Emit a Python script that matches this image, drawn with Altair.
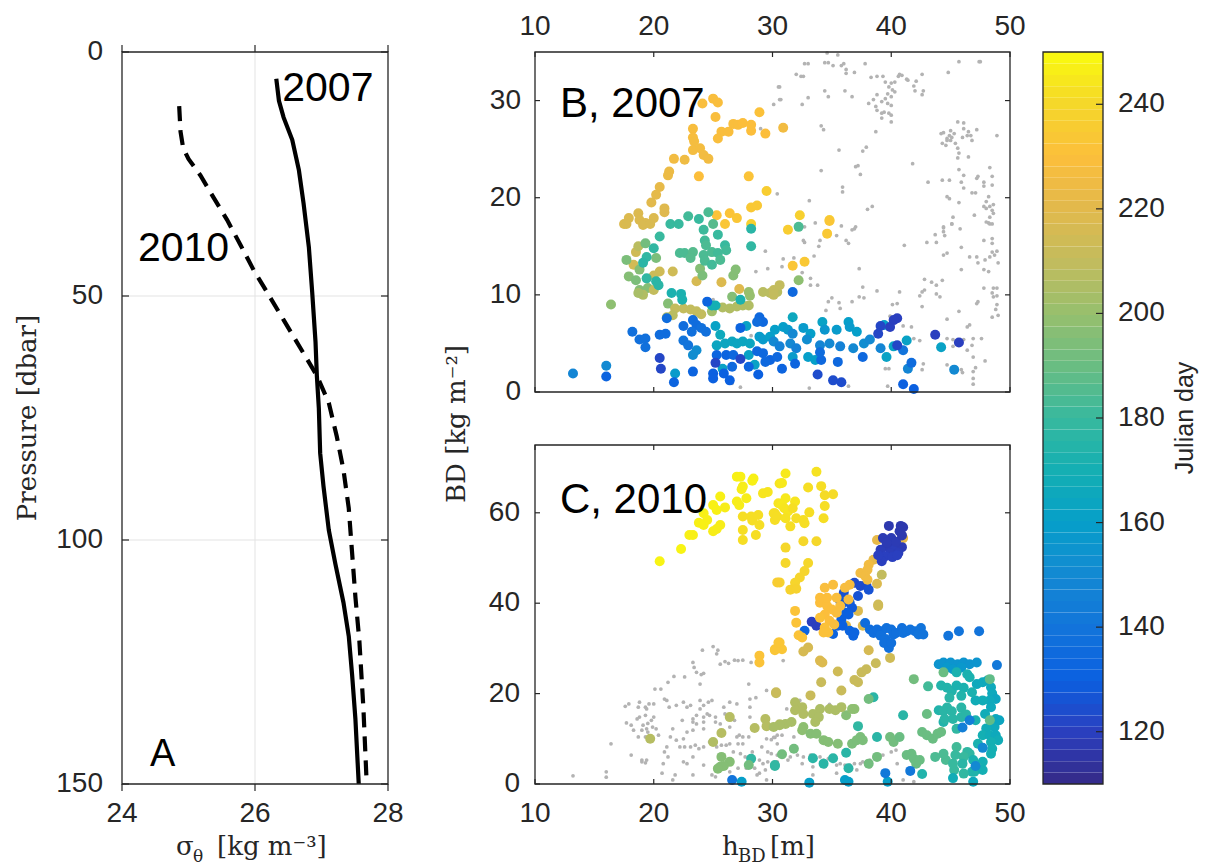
import altair as alt
import pandas as pd

# ---------------- panel A: density profiles ----------------
SIGMA_2007 = [26.32, 26.36, 26.43, 26.56, 26.66, 26.73, 26.81, 26.86, 26.91, 26.93,
              26.96, 26.98, 27.03, 27.11, 27.21, 27.33, 27.41, 27.46, 27.51, 27.56]
P_2007 = [5.5, 10, 13.4, 18, 24.2, 31, 40, 49.2, 59.4, 66.3,
          73, 82.2, 89, 98, 105, 112.8, 119.7, 127.6, 136.7, 150]
SIGMA_2010 = [24.86, 24.88, 24.92, 25.0, 25.18, 25.38, 25.58, 25.78, 25.98, 26.18, 26.43,
              26.68, 26.93, 27.11, 27.23, 27.33, 27.41, 27.46, 27.51, 27.57, 27.63, 27.68]
P_2010 = [11.1, 16.3, 19.7, 21.9, 25.3, 29.9, 34.4, 39.5, 44.7, 49.2, 54.9,
          60.6, 66.3, 71.9, 78.8, 85.6, 93.5, 102.6, 111.7, 120.8, 134.4, 150]

SIGMA_DOMAIN = [24, 28]
P_DOMAIN = [0, 150]
SIGMA_TICKS = [24, 26, 28]
P_TICKS = [0, 50, 100, 150]

# ---------------- panels B and C: bottom density vs depth ----------------
H_DOMAIN = [10, 50]
H_TICKS = [10, 20, 30, 40, 50]
B_DOMAIN = [0, 35]
B_TICKS = [0, 10, 20, 30]
C_DOMAIN = [0, 75]
C_TICKS = [0, 20, 40, 60]

# (h_BD, BD, Julian day) for 2007
B_ORANGE = [(24.1, 29.7, 229), (25.0, 30.2, 229), (25.4, 29.8, 229), (25.2, 28.3, 229), (23.3, 27.1, 228),
            (23.3, 26.2, 228), (23.4, 25.8, 227), (23.3, 24.9, 227), (23.9, 25.1, 227), (24.2, 24.4, 226),
            (24.6, 24.0, 226), (22.6, 23.9, 225), (21.7, 24.0, 226), (21.3, 22.7, 224), (21.2, 22.3, 224),
            (23.8, 22.2, 230), (26.7, 27.6, 229), (27.1, 27.5, 229), (27.5, 27.7, 230), (28.2, 27.5, 230),
            (28.2, 26.9, 230), (29.4, 26.6, 230), (28.9, 28.8, 231), (25.7, 26.8, 229), (26.3, 26.8, 229),
            (25.4, 26.1, 229), (30.9, 27.2, 226), (28.0, 22.2, 232), (29.5, 20.7, 236), (28.2, 19.0, 234),
            (28.7, 19.2, 234), (25.3, 18.2, 232), (26.4, 18.4, 232), (27.0, 17.9, 233), (26.0, 17.3, 233),
            (28.2, 17.3, 237), (32.3, 18.2, 237), (34.8, 17.7, 237), (31.3, 16.7, 236), (34.6, 16.3, 234),
            (34.8, 17.6, 233), (31.7, 13.0, 233), (32.7, 13.4, 234)]
B_GOLD = [(20.5, 21.1, 222), (20.2, 20.3, 221), (19.8, 19.5, 220), (20.9, 18.9, 219), (20.9, 18.5, 219),
          (17.9, 17.9, 218), (17.5, 17.3, 218), (18.7, 18.4, 218), (18.8, 17.7, 218), (19.3, 17.4, 218),
          (20.0, 17.9, 218), (17.7, 17.3, 217), (19.1, 17.2, 217), (19.7, 17.3, 217), (18.5, 14.4, 214),
          (18.3, 13.1, 215), (20.5, 12.4, 214), (20.0, 12.0, 213), (21.6, 12.4, 214), (23.6, 11.4, 216),
          (25.7, 11.3, 218), (27.2, 10.6, 219), (18.7, 15.0, 208)]
B_TEAL = [(22.9, 18.1, 182), (24.6, 18.5, 184), (25.0, 17.3, 186), (23.8, 17.8, 180), (21.4, 17.3, 180),
          (22.1, 17.3, 180), (24.2, 16.7, 181), (20.5, 16.0, 180), (24.3, 15.6, 182), (25.4, 16.2, 180),
          (24.4, 15.1, 184), (28.2, 16.8, 176), (28.2, 15.0, 178), (26.0, 15.1, 180), (26.1, 14.6, 182),
          (20.0, 14.8, 178), (19.4, 13.9, 178), (19.1, 13.3, 176), (22.2, 14.3, 184), (22.6, 14.3, 184),
          (23.3, 14.4, 186), (23.1, 13.8, 186), (24.2, 14.1, 184), (24.3, 13.5, 184), (24.9, 14.4, 184),
          (25.4, 14.3, 182), (25.6, 13.6, 184), (24.9, 13.1, 182), (20.2, 11.4, 176), (20.4, 11.0, 176),
          (19.4, 11.7, 178), (32.2, 17.0, 184), (21.5, 10.2, 172), (22.3, 10.1, 172), (22.4, 9.5, 172),
          (24.9, 8.9, 170), (25.2, 8.9, 170), (27.3, 9.5, 172), (31.7, 7.7, 165)]
B_GREEN = [(19.3, 15.3, 192), (20.2, 13.8, 194), (17.7, 13.6, 194), (23.9, 12.7, 196), (18.8, 12.6, 196),
           (17.9, 11.9, 196), (18.5, 11.5, 194), (18.8, 10.5, 196), (19.5, 10.7, 196), (24.1, 12.0, 194),
           (26.7, 12.0, 196), (26.9, 12.6, 196), (16.4, 9.0, 198), (21.2, 9.1, 196), (32.2, 11.5, 198),
           (28.0, 10.3, 200), (28.1, 9.9, 200), (26.6, 9.8, 196)]
B_OLIVE = [(19.1, 10.0, 206), (20.0, 10.5, 210), (18.7, 10.2, 204), (29.2, 10.3, 208), (29.8, 10.2, 208),
           (30.4, 10.3, 208), (21.8, 8.6, 210), (22.5, 8.6, 210), (23.1, 8.5, 210), (23.6, 8.3, 210),
           (24.0, 8.0, 210), (21.6, 7.9, 208), (21.1, 7.7, 208), (25.8, 8.7, 206), (26.4, 8.6, 206),
           (27.0, 8.8, 206), (27.5, 8.9, 206), (28.0, 8.9, 206), (24.9, 8.3, 202), (30.1, 10.5, 210),
           (30.6, 11.0, 210), (30.1, 10.0, 210)]
B_BLUE = [(21.1, 7.6, 136), (18.2, 6.2, 138), (18.8, 5.4, 138), (19.3, 5.5, 138), (19.3, 4.6, 138),
          (20.5, 5.9, 136), (21.0, 6.0, 136), (22.5, 6.8, 136), (23.3, 7.4, 136), (23.6, 6.9, 136),
          (23.2, 6.2, 138), (24.4, 6.2, 138), (24.0, 6.6, 138), (22.5, 5.3, 140), (22.9, 4.8, 140),
          (24.5, 9.3, 132), (27.3, 6.6, 132), (28.9, 7.7, 134), (29.2, 7.2, 134), (28.7, 7.2, 136),
          (31.7, 10.3, 134), (21.7, 1.0, 132), (23.3, 2.1, 132), (16.0, 1.6, 132), (25.3, 3.8, 132),
          (26.1, 3.8, 132), (26.7, 3.8, 134), (26.6, 2.6, 134), (25.9, 1.9, 130), (25.0, 1.9, 130),
          (25.0, 1.4, 130), (26.4, 1.2, 130), (28.0, 2.6, 132), (28.8, 1.8, 130), (28.7, 4.2, 134),
          (29.2, 4.0, 134), (29.8, 3.3, 132), (30.4, 3.6, 134), (29.4, 3.1, 134), (30.8, 2.4, 132),
          (31.9, 2.9, 132), (34.1, 3.3, 134), (34.0, 4.1, 136), (35.5, 3.1, 134), (37.6, 3.6, 134),
          (41.7, 3.0, 136), (41.0, 0.8, 130), (41.9, 0.3, 130), (41.0, 4.3, 140)]
B_DARK = [(20.5, 3.5, 122), (20.6, 2.4, 122), (27.3, 3.4, 122), (25.2, 3.0, 122), (33.8, 1.8, 124),
          (35.1, 1.2, 124), (35.8, 1.0, 124), (40.5, 7.6, 120), (40.2, 7.4, 120), (39.9, 6.7, 120),
          (39.1, 6.8, 122), (38.9, 6.0, 122), (40.5, 4.8, 122), (43.7, 5.9, 120), (45.7, 5.1, 120)]
B_CYAN = [(23.6, 4.3, 152), (23.3, 3.8, 152), (21.8, 1.9, 158), (16.0, 2.7, 150), (13.2, 1.9, 148),
          (25.2, 6.8, 162), (27.8, 6.8, 162), (28.9, 5.7, 158), (29.2, 5.4, 158), (29.8, 5.7, 160),
          (30.2, 6.4, 160), (28.0, 3.8, 162), (28.5, 2.8, 162), (25.8, 2.4, 162), (25.6, 5.9, 166),
          (25.3, 4.8, 164), (26.0, 5.0, 164), (26.6, 5.2, 164), (27.0, 5.0, 164), (27.5, 5.2, 164),
          (28.1, 5.0, 164), (30.9, 6.7, 160), (31.3, 6.4, 158), (31.7, 6.0, 150), (32.6, 6.6, 158),
          (33.2, 6.0, 160), (34.2, 7.2, 162), (34.4, 6.4, 156), (35.4, 6.4, 158), (36.4, 7.2, 160),
          (36.5, 6.7, 158), (37.1, 6.2, 160), (30.1, 5.2, 150), (30.6, 4.7, 146), (31.5, 5.0, 150),
          (32.0, 4.5, 146), (32.9, 5.4, 152), (34.0, 4.8, 148), (34.8, 5.0, 150), (35.7, 4.7, 146),
          (36.8, 4.5, 150), (37.7, 5.0, 152), (38.2, 5.4, 150), (39.1, 4.5, 148), (39.4, 6.9, 160),
          (31.7, 3.6, 158), (33.0, 3.6, 160), (33.6, 3.3, 160), (39.6, 3.6, 162), (41.3, 5.3, 162),
          (40.2, 4.7, 162), (41.4, 2.4, 148), (44.2, 4.6, 162), (45.3, 2.3, 150)]

# (h_BD, BD) of the other year's samples, shown in grey
B_GREY = [(34.6, 34.9), (35.5, 34.7), (32.7, 33.8), (33.0, 33.8), (34.4, 33.9), (34.7, 33.9), (35.1, 33.6),
          (35.8, 33.6), (36.0, 33.8), (36.2, 33.2), (36.2, 32.8), (36.9, 32.9), (37.8, 33.8), (32.0, 32.7),
          (32.4, 32.5), (32.6, 32.5), (30.6, 31.4), (30.1, 29.6), (30.7, 30.1), (32.5, 29.6), (33.0, 30.3),
          (34.4, 31.0), (34.7, 30.4), (36.1, 31.0), (36.7, 30.4), (38.3, 32.4), (38.8, 32.5), (39.3, 32.5),
          (39.5, 31.9), (40.0, 31.8), (40.3, 31.9), (40.6, 32.5), (40.7, 32.7), (40.9, 32.6), (41.3, 32.2),
          (41.4, 32.1), (41.9, 31.5), (42.1, 32.0), (42.6, 32.7), (42.0, 31.0), (42.6, 30.6), (42.7, 31.0),
          (39.8, 31.4), (40.1, 31.1), (39.7, 30.7), (40.0, 30.4), (39.5, 30.2), (40.3, 30.9), (39.7, 29.7),
          (40.0, 29.5), (39.2, 29.9), (38.8, 30.6), (38.5, 30.1), (38.1, 29.7), (38.7, 29.4), (38.8, 29.0),
          (39.2, 28.7), (39.4, 28.8), (39.8, 28.7), (40.0, 28.5), (40.0, 27.8), (39.2, 28.2), (38.7, 26.8),
          (45.7, 34.0), (44.8, 32.9), (47.4, 34.0), (47.5, 34.0), (41.8, 23.5), (34.1, 27.4), (34.3, 27.0),
          (35.6, 24.9), (37.6, 24.8), (37.9, 25.2), (37.0, 23.2), (37.2, 23.3), (37.4, 22.4), (34.1, 22.8),
          (35.9, 21.1), (35.9, 20.6), (30.4, 20.4), (33.1, 19.7), (38.0, 18.8), (38.4, 19.1), (33.6, 17.4),
          (35.8, 17.1), (36.9, 16.8), (43.1, 21.6), (44.2, 26.6), (44.4, 26.7), (45.0, 26.9), (45.6, 27.8),
          (46.1, 27.7), (46.1, 27.1), (46.5, 26.8), (46.7, 26.4), (47.2, 27.0), (45.1, 26.2), (44.7, 25.9),
          (44.6, 25.4), (44.3, 25.6), (45.4, 25.6), (45.6, 25.1), (45.7, 24.6), (45.6, 24.1), (46.5, 24.2),
          (46.8, 25.9), (45.0, 25.9), (44.7, 26.1), (45.3, 26.6), (46.0, 26.2), (46.4, 26.4), (44.9, 26.4),
          (48.9, 26.4), (44.3, 21.8), (44.9, 21.8), (44.7, 20.1), (44.9, 19.9), (45.7, 19.5), (46.1, 22.3),
          (45.9, 21.6), (46.1, 21.0), (45.7, 22.9), (46.8, 20.5), (47.1, 20.5), (47.2, 22.0), (47.3, 22.2),
          (47.8, 21.6), (47.8, 21.2), (48.3, 23.1), (48.5, 22.2), (48.5, 21.3), (48.2, 20.1), (48.0, 19.6),
          (47.8, 19.1), (48.0, 18.9), (48.3, 19.1), (48.6, 19.3), (48.5, 18.7), (48.6, 18.4), (48.3, 18.0),
          (48.2, 17.4), (48.5, 17.3), (47.0, 18.2), (45.2, 18.0), (45.1, 17.3), (44.4, 16.9), (32.7, 17.0),
          (32.6, 15.6), (32.7, 15.4), (34.0, 15.6), (33.9, 15.0), (33.5, 14.0), (35.4, 16.1), (36.2, 15.6),
          (36.4, 15.3), (36.7, 16.7), (37.0, 17.0), (30.9, 13.7), (30.8, 12.9), (31.5, 12.9), (31.8, 13.8),
          (33.2, 11.7), (33.2, 11.0), (33.8, 11.0), (32.5, 12.3), (37.3, 12.7), (35.0, 9.7), (34.7, 9.3),
          (34.5, 8.4), (35.6, 9.2), (35.7, 8.6), (36.7, 9.3), (37.3, 9.8), (37.7, 9.7), (37.6, 10.8),
          (38.8, 10.4), (40.7, 10.3), (40.1, 9.0), (41.1, 15.1), (43.0, 15.4), (43.8, 15.4), (43.7, 16.2),
          (44.4, 17.0), (44.4, 16.5), (44.5, 16.1), (45.1, 17.3), (45.8, 16.8), (45.9, 14.9), (44.4, 14.1),
          (44.7, 14.3), (42.8, 11.6), (43.4, 11.3), (43.8, 11.0), (44.3, 11.5), (44.1, 9.8), (43.8, 10.1),
          (42.8, 10.5), (42.6, 10.3), (42.4, 9.9), (42.6, 8.8), (46.6, 13.9), (47.2, 13.9), (47.3, 13.3),
          (47.9, 13.6), (48.3, 13.9), (48.5, 14.4), (48.7, 14.1), (48.9, 14.5), (49.0, 13.3), (47.8, 12.6),
          (48.2, 12.4), (48.5, 15.3), (48.5, 15.8), (48.0, 17.5), (48.3, 17.3), (47.8, 15.6), (45.9, 12.6),
          (47.8, 10.7), (48.6, 10.7), (48.9, 10.7), (48.5, 10.2), (48.6, 9.8), (48.9, 9.9), (47.3, 9.3),
          (47.2, 9.1), (48.9, 9.0), (48.8, 8.5), (49.0, 7.9), (48.5, 7.7), (46.6, 6.9), (46.4, 6.7),
          (45.7, 8.3), (44.7, 7.5), (44.7, 5.5), (45.2, 5.4), (45.2, 4.7), (46.1, 5.4), (46.9, 5.5),
          (47.6, 5.5), (46.8, 4.8), (46.4, 4.3), (46.9, 3.6), (47.9, 3.2), (47.1, 2.5), (46.9, 2.1),
          (46.9, 1.4), (46.9, 0.8), (44.7, 2.8), (45.9, 2.3), (46.0, 2.0), (39.5, 2.4), (39.8, 2.4),
          (39.7, 0.6), (36.4, 0.6), (33.1, 0.4), (41.0, 6.8), (41.7, 6.7), (41.9, 5.5), (42.4, 5.3),
          (42.6, 2.3), (42.7, 2.9), (39.9, 7.8), (40.5, 9.1), (29.4, 14.5), (28.6, 12.4), (29.6, 12.7),
          (25.0, 9.5), (28.2, 5.8), (27.3, 0.5), (26.6, 0.9), (30.5, 31.4), (30.6, 30.1), (29.0, 27.1)]

# (h_BD, BD, Julian day) for 2010
C_YELLOW = [(27.0, 68.0, 247), (27.3, 68.0, 247), (28.4, 67.6, 247), (28.3, 67.1, 247), (27.5, 65.8, 246),
            (27.4, 65.2, 246), (27.8, 63.2, 246), (27.0, 62.5, 246), (27.2, 61.7, 246), (25.6, 63.6, 247),
            (25.0, 61.7, 247), (25.3, 60.6, 247), (26.0, 61.2, 246), (24.2, 59.9, 247), (23.8, 57.8, 247),
            (24.2, 57.3, 247), (24.5, 58.4, 247), (25.6, 57.3, 246), (25.3, 56.4, 246), (25.0, 55.9, 246),
            (23.0, 55.1, 247), (23.3, 55.1, 247), (22.3, 52.0, 248), (20.5, 49.3, 248), (29.2, 64.3, 244),
            (29.6, 64.6, 244), (27.5, 59.2, 242), (27.5, 56.2, 242), (27.5, 54.0, 242), (28.2, 59.2, 242),
            (28.3, 58.3, 242), (28.8, 59.5, 242), (28.9, 57.3, 242), (28.6, 55.1, 242), (30.2, 59.9, 242),
            (30.2, 58.4, 242), (30.6, 66.5, 244), (30.5, 62.1, 244), (31.1, 68.7, 245), (33.7, 69.1, 243),
            (30.8, 66.6, 245), (33.0, 65.6, 242), (34.1, 65.9, 242), (34.4, 63.9, 241), (35.1, 64.1, 241),
            (34.4, 61.5, 242), (34.3, 58.8, 242), (33.1, 60.1, 242), (31.1, 63.2, 245), (31.9, 62.5, 244),
            (30.8, 61.7, 245), (31.0, 61.0, 244), (31.3, 60.3, 244), (31.7, 61.0, 242), (30.1, 59.9, 242),
            (30.4, 59.2, 242), (31.1, 58.8, 243), (32.0, 58.8, 242), (32.6, 58.4, 242), (32.7, 57.7, 242),
            (31.5, 57.0, 242), (32.6, 53.7, 240), (33.7, 53.7, 240), (31.1, 52.3, 240), (31.1, 48.9, 240),
            (33.0, 48.9, 240), (32.7, 47.1, 239), (32.3, 45.7, 239), (31.9, 44.5, 239), (31.5, 43.0, 238),
            (32.0, 43.2, 238), (30.6, 44.6, 238), (30.4, 44.6, 236)]
C_ORANGE = [(34.0, 40.1, 230), (34.6, 39.4, 230), (35.0, 38.6, 230), (35.4, 37.9, 229), (34.4, 37.5, 230),
            (34.0, 36.8, 231), (34.8, 36.1, 230), (35.2, 35.3, 229), (34.4, 34.6, 231), (34.7, 33.5, 231),
            (34.3, 33.5, 231), (35.7, 39.4, 229), (36.5, 44.1, 228), (36.1, 43.4, 228), (35.1, 44.1, 229),
            (34.4, 43.4, 229), (34.0, 41.2, 230), (34.6, 41.2, 230), (36.4, 40.8, 228), (35.4, 41.2, 229),
            (31.9, 38.3, 232), (32.0, 35.7, 232), (32.2, 32.9, 232), (32.5, 32.4, 232), (30.6, 31.3, 233),
            (30.2, 29.8, 233), (30.8, 29.8, 233), (28.9, 28.4, 232), (28.9, 26.9, 232), (30.2, 29.6, 233),
            (30.5, 31.3, 233), (37.4, 46.7, 226), (38.1, 48.5, 226), (38.0, 47.4, 226), (37.8, 46.0, 226),
            (38.0, 45.2, 226)]
C_GOLD = [(36.2, 35.0, 220), (37.2, 38.3, 218), (37.6, 35.0, 218), (38.9, 39.4, 215), (39.9, 27.9, 214),
          (38.7, 26.7, 212), (38.1, 29.6, 216), (32.6, 29.3, 216), (33.0, 30.2, 216), (34.0, 27.3, 218),
          (34.2, 26.9, 218), (35.5, 24.9, 214), (34.1, 22.5, 212), (35.8, 20.7, 212), (36.9, 23.0, 212),
          (37.2, 22.5, 212), (37.5, 24.7, 212), (37.9, 25.4, 212), (30.3, 20.3, 212), (33.2, 19.6, 212),
          (39.2, 46.3, 210), (38.8, 44.3, 218), (38.9, 39.7, 214), (38.5, 49.6, 222), (38.8, 54.0, 222),
          (41.0, 54.4, 222)]
C_DARK = [(39.8, 57.1, 117), (40.8, 57.1, 117), (40.7, 55.9, 117), (39.3, 54.4, 118), (40.0, 54.4, 118),
          (40.2, 52.9, 118), (39.6, 52.6, 118), (39.1, 51.8, 119), (40.3, 51.8, 119), (40.9, 52.4, 118),
          (39.9, 51.1, 119), (39.5, 50.4, 120), (39.2, 49.3, 120), (40.6, 51.1, 119), (40.4, 53.6, 118),
          (39.6, 53.4, 118), (40.1, 50.2, 120), (40.5, 50.6, 120), (38.9, 50.6, 120), (41.0, 56.8, 117),
          (40.9, 55.0, 117), (33.3, 35.9, 120), (33.7, 35.0, 120)]
C_BLUE = [(36.9, 44.5, 124), (37.4, 43.8, 124), (37.9, 44.1, 124), (38.1, 43.0, 126), (37.2, 41.6, 126),
          (36.0, 42.3, 126), (35.7, 40.5, 128), (35.8, 39.7, 128), (36.5, 40.1, 128), (36.7, 39.0, 128),
          (36.2, 37.9, 130), (35.8, 36.4, 130), (35.5, 35.0, 130), (35.9, 35.0, 130), (36.5, 33.9, 132),
          (35.1, 33.2, 132), (36.8, 32.8, 132), (36.9, 33.5, 132), (36.4, 37.5, 130), (32.7, 33.9, 132),
          (37.8, 35.6, 136), (38.2, 34.2, 136), (38.5, 33.4, 137), (38.8, 34.2, 137), (39.2, 33.8, 137),
          (39.6, 34.5, 138), (40.0, 34.2, 138), (40.2, 33.1, 138), (40.4, 33.4, 138), (40.9, 34.5, 138),
          (41.0, 33.4, 139), (41.3, 33.8, 139), (41.6, 34.2, 139), (42.0, 33.8, 139), (42.3, 33.1, 140),
          (42.5, 34.5, 140), (42.7, 33.1, 140), (39.1, 32.8, 138), (39.5, 32.1, 138), (39.8, 30.1, 138),
          (39.4, 31.2, 138), (40.0, 31.2, 138), (48.9, 26.3, 142), (44.8, 32.8, 140), (45.7, 33.8, 140),
          (47.4, 33.8, 140), (46.0, 12.5, 145), (46.6, 14.1, 145), (47.7, 8.0, 150), (47.1, 4.0, 150),
          (26.6, 0.9, 140), (39.5, 2.4, 142), (41.6, 2.9, 142)]
C_OLIVE = [(26.4, 14.8, 207), (29.4, 14.4, 207), (28.5, 12.4, 207), (29.5, 12.8, 207), (25.7, 11.3, 207),
           (25.0, 9.3, 206), (19.7, 10.0, 207), (30.6, 13.2, 207), (31.9, 18.1, 206), (32.5, 17.0, 206),
           (31.9, 16.3, 206), (32.6, 15.5, 206), (33.4, 15.5, 205), (34.0, 16.6, 205), (33.9, 14.8, 205),
           (33.6, 13.7, 205), (34.8, 16.6, 205), (35.3, 16.3, 205), (35.8, 17.0, 205), (31.1, 13.3, 204),
           (31.6, 13.7, 204), (30.6, 13.0, 204), (30.1, 12.6, 204), (30.3, 20.1, 210)]
C_GREEN = [(36.2, 15.2, 196), (36.9, 16.6, 198), (36.7, 16.6, 198), (32.6, 12.6, 198), (32.5, 11.9, 198),
           (33.2, 11.1, 196), (33.7, 11.1, 196), (34.3, 9.7, 196), (34.7, 9.3, 196), (35.5, 8.9, 196),
           (36.7, 8.9, 194), (37.1, 9.7, 194), (37.4, 10.4, 194), (37.6, 9.7, 194), (38.1, 18.8, 192),
           (25.7, 6.0, 196), (26.4, 4.9, 196), (25.6, 3.8, 196), (25.9, 4.0, 196), (25.4, 3.4, 196),
           (28.0, 4.2, 192), (31.8, 7.8, 192), (30.8, 6.6, 192), (38.1, 4.5, 192), (38.8, 6.0, 192),
           (39.9, 10.4, 192), (40.2, 9.3, 192), (40.7, 10.4, 190), (41.3, 6.4, 190), (41.7, 6.7, 190),
           (41.9, 5.6, 190), (42.1, 4.5, 190), (42.4, 5.3, 190), (41.9, 23.2, 192), (43.0, 15.5, 190),
           (42.6, 11.5, 190), (43.0, 10.8, 190), (43.5, 10.0, 190), (43.9, 11.1, 190), (44.2, 11.5, 190),
           (44.4, 24.7, 190), (48.3, 23.2, 188), (48.3, 14.1, 188)]
C_TEAL = [(28.2, 5.6, 178), (30.2, 4.0, 178), (30.2, 4.2, 178), (33.4, 5.7, 176), (34.3, 4.5, 176),
          (35.1, 5.7, 176), (36.2, 6.9, 176), (36.4, 3.5, 176), (37.2, 12.8, 178), (38.8, 10.4, 176),
          (41.0, 15.2, 176), (38.5, 19.2, 176), (42.6, 2.2, 174), (43.1, 21.6, 182), (44.4, 13.7, 174),
          (44.0, 16.3, 174), (45.5, 24.7, 172), (46.4, 24.3, 172), (46.6, 23.6, 172), (44.2, 21.8, 174),
          (44.7, 21.3, 174), (45.1, 20.6, 174), (45.5, 21.8, 172), (46.1, 21.3, 172), (45.9, 19.5, 174),
          (44.9, 19.1, 176), (44.7, 16.9, 176), (44.4, 16.1, 176), (45.1, 16.1, 176), (44.5, 14.4, 176),
          (45.2, 14.4, 176), (45.9, 14.8, 176), (45.9, 16.9, 176), (46.3, 15.4, 176), (45.5, 12.2, 178),
          (47.2, 22.1, 166), (47.7, 22.5, 166), (48.1, 22.9, 166), (48.4, 21.4, 166), (48.5, 20.0, 166),
          (48.8, 18.8, 164), (48.3, 18.5, 166), (47.7, 18.5, 168), (47.1, 18.5, 168), (48.4, 17.0, 166),
          (47.9, 15.5, 168), (48.8, 14.4, 166), (48.7, 12.6, 166), (49.1, 14.1, 164), (48.0, 12.3, 168),
          (47.7, 10.8, 170), (48.3, 10.8, 168), (48.8, 10.8, 166), (49.0, 9.7, 168), (48.4, 9.3, 170),
          (48.5, 7.8, 170), (48.4, 6.7, 170), (47.3, 8.9, 172), (47.1, 14.1, 172), (46.8, 20.3, 172),
          (46.4, 7.1, 178), (46.6, 6.7, 178), (46.1, 6.0, 180), (45.5, 8.2, 182), (46.0, 4.5, 176),
          (46.9, 5.3, 172), (47.7, 4.9, 170), (47.2, 3.8, 176), (46.8, 2.7, 174), (47.0, 2.7, 174),
          (47.7, 3.1, 170), (46.1, 2.3, 178), (45.3, 3.1, 180), (45.2, 1.3, 168), (46.9, 0.5, 166),
          (44.6, 5.3, 184), (44.4, 6.7, 184), (45.4, 6.4, 180), (45.2, 4.5, 180), (43.7, 6.0, 184)]
C_CYAN = [(27.4, 0.5, 160), (36.1, 0.9, 160), (36.4, 0.5, 160), (33.1, 0.3, 160), (39.7, 0.5, 160),
          (44.0, 26.5, 155), (44.4, 26.9, 155), (45.0, 26.9, 155), (45.6, 26.5, 155), (46.1, 26.9, 155),
          (46.6, 26.5, 155), (47.2, 26.9, 155), (44.7, 25.8, 157), (45.2, 25.4, 157), (45.9, 25.8, 157)]

C_GREY = [(13.2, 1.8), (16.0, 2.7), (16.0, 1.5), (16.4, 8.9), (17.6, 17.2), (17.9, 17.7), (18.8, 18.1),
          (18.7, 17.0), (19.3, 17.0), (19.6, 17.7), (20.0, 17.7), (19.4, 16.6), (18.6, 14.4), (18.8, 14.8),
          (19.3, 15.2), (19.5, 13.4), (19.8, 14.1), (20.0, 14.8), (19.1, 13.0), (18.1, 13.0), (17.7, 13.5),
          (18.3, 11.9), (19.0, 11.9), (18.7, 10.4), (19.3, 10.4), (19.5, 11.5), (20.2, 12.2), (20.4, 10.8),
          (19.9, 12.6), (19.4, 12.2), (18.1, 6.4), (19.0, 5.3), (19.3, 4.7), (19.4, 5.3), (19.0, 4.9),
          (20.1, 21.0), (20.6, 21.0), (20.9, 18.8), (21.1, 18.5), (21.7, 23.8), (21.2, 22.5), (21.3, 17.0),
          (21.9, 17.4), (22.6, 23.7), (23.3, 26.9), (23.4, 25.8), (23.6, 24.7), (24.1, 29.6), (24.0, 24.2),
          (23.9, 22.1), (24.2, 24.5), (25.0, 30.4), (25.3, 28.8), (25.4, 29.6), (25.6, 26.5), (26.0, 27.1),
          (26.3, 26.7), (26.8, 27.4), (27.1, 27.3), (27.5, 27.4), (28.2, 26.9), (28.0, 22.1), (28.1, 18.8),
          (28.6, 19.1), (28.1, 17.0), (28.1, 14.8), (22.5, 18.1), (22.8, 17.0), (23.1, 17.4), (23.9, 18.5),
          (24.2, 17.4), (24.6, 18.1), (24.9, 18.5), (23.9, 16.6), (24.5, 15.5), (24.2, 14.8), (24.7, 15.2),
          (23.6, 15.2), (23.3, 14.4), (23.3, 13.7), (23.6, 13.3), (24.2, 13.7), (25.2, 14.8), (25.2, 13.7),
          (25.9, 17.0), (26.4, 18.1), (27.0, 17.7), (26.0, 15.5), (25.6, 13.3), (26.4, 12.6), (26.8, 14.1),
          (24.2, 12.2), (22.8, 11.5), (23.3, 11.9), (21.6, 12.2), (22.4, 14.1), (22.5, 10.0), (21.4, 10.4),
          (21.9, 9.7), (22.2, 8.2), (22.6, 8.2), (23.1, 8.2), (23.5, 8.6), (23.8, 7.8), (24.2, 8.2),
          (24.7, 9.3), (25.3, 8.2), (25.7, 8.6), (26.1, 8.6), (26.4, 8.9), (27.0, 10.4), (27.2, 10.8),
          (27.5, 10.4), (27.5, 8.9), (27.1, 8.9), (28.0, 10.4), (26.7, 7.1), (27.3, 6.7), (27.7, 6.0),
          (28.1, 6.0), (28.9, 5.3), (29.2, 4.5), (29.6, 4.9), (29.4, 3.1), (28.9, 2.4), (30.2, 10.3),
          (29.9, 9.8), (29.5, 10.0), (30.4, 8.9), (21.1, 8.2), (20.9, 7.1), (21.2, 6.0), (20.8, 4.5),
          (20.7, 2.4), (21.8, 2.0), (21.6, 0.9), (22.5, 4.9), (22.8, 4.5), (23.3, 6.0), (23.3, 2.0),
          (24.2, 4.2), (24.9, 2.0), (25.2, 1.6), (26.4, 2.7), (27.1, 3.5), (27.8, 3.5), (28.5, 3.5),
          (28.7, 2.0), (29.5, 0.9), (29.6, 7.1), (28.3, 7.1), (29.1, 8.2), (29.5, 20.7), (30.9, 27.3),
          (31.2, 16.6), (32.3, 18.5), (32.5, 17.0), (34.8, 17.6), (30.4, 10.8), (30.1, 10.3), (30.8, 10.8),
          (31.8, 10.4), (29.9, 6.7), (30.4, 6.4), (30.9, 6.0), (31.5, 6.0), (32.1, 6.4), (32.6, 6.0),
          (33.2, 6.4), (33.6, 6.0), (34.0, 6.0), (34.3, 5.3), (34.7, 5.6), (35.1, 5.3), (35.7, 4.5),
          (36.1, 4.2), (36.5, 4.2), (36.9, 4.5), (37.4, 4.5), (37.6, 4.9), (38.2, 5.3), (38.8, 5.6),
          (39.3, 6.4), (40.0, 7.1), (40.4, 7.5), (30.4, 4.9), (31.3, 5.3), (32.5, 4.5), (33.4, 3.8),
          (34.4, 3.8), (35.4, 4.2), (33.4, 2.0), (35.4, 2.4), (37.1, 3.1), (38.2, 3.8), (41.0, 0.9),
          (41.9, 0.5), (40.5, 4.5), (43.7, 6.0)]

# ---------------- colour bar ----------------
DAY_STOPS = [110, 120, 130, 140, 150, 160, 170, 180, 190, 200, 210, 220, 230, 240, 250]
PARULA = ['#352a87', '#2a3fbf', '#0b60e0', '#1274db', '#1389d2', '#069fc9', '#14afb3', '#38b99e',
          '#6abd82', '#97bf6d', '#c3bc5d', '#e2b94c', '#fcbe3b', '#f5d72a', '#f9fb0e']
DAY_TICKS = [120, 140, 160, 180, 200, 220, 240]
N_LEVELS = 64

# ---------------- layout of the drawing area (pixels) ----------------
W, H = 981, 732
A_XR, A_YR = [0, 266], [0, 732]
BC_XR = [413, 888]
B_YR = [340, 0]
C_YR = [732, 393]
CB_X0, CB_X1 = 921, 981

AX = '#262626'
GREY = '#b3b3b3'
SANS = 'Liberation Sans'
SERIF = 'DejaVu Serif'
TICK_FS = 28
DOT = 100
GREY_DOT = 14

day_scale = alt.Scale(domain=DAY_STOPS, range=PARULA, interpolate='rgb')
day_color = alt.Color('day:Q', scale=day_scale, legend=None)


def lin(domain, rng):
    return alt.Scale(domain=domain, range=rng, nice=False, zero=False)


def frame(xs, ys, xdom, ydom):
    df = pd.DataFrame({'x0': [xdom[0]], 'x1': [xdom[1]], 'y0': [ydom[0]], 'y1': [ydom[1]]})
    return alt.Chart(df).mark_rect(fillOpacity=0, stroke=AX, strokeWidth=1.3).encode(
        x=alt.X('x0:Q', scale=xs, axis=None), x2='x1:Q',
        y=alt.Y('y0:Q', scale=ys, axis=None), y2='y1:Q')


def inward_ticks(xs, ys, xdom, ydom, xvals, yvals, n):
    """Box ticks pointing into the plot on all four sides."""
    dx = pd.DataFrame({'v': xvals, 'lo': ydom[0], 'hi': ydom[1]})
    dy = pd.DataFrame({'v': yvals, 'lo': xdom[0], 'hi': xdom[1]})
    rule = dict(color=AX, strokeWidth=1.2)
    bottom = alt.Chart(dx).mark_rule(y2Offset=-n, **rule).encode(
        x=alt.X('v:Q', scale=xs, axis=None), y=alt.Y('lo:Q', scale=ys, axis=None), y2='lo:Q')
    top = alt.Chart(dx).mark_rule(y2Offset=n, **rule).encode(
        x=alt.X('v:Q', scale=xs, axis=None), y=alt.Y('hi:Q', scale=ys, axis=None), y2='hi:Q')
    left = alt.Chart(dy).mark_rule(x2Offset=n, **rule).encode(
        y=alt.Y('v:Q', scale=ys, axis=None), x=alt.X('lo:Q', scale=xs, axis=None), x2='lo:Q')
    right = alt.Chart(dy).mark_rule(x2Offset=-n, **rule).encode(
        y=alt.Y('v:Q', scale=ys, axis=None), x=alt.X('hi:Q', scale=xs, axis=None), x2='hi:Q')
    return [bottom, top, left, right]


def x_labels(xs, vals, ypix):
    return alt.Chart(pd.DataFrame({'v': vals})).mark_text(
        font=SANS, fontSize=TICK_FS, color=AX, align='center', baseline='alphabetic').encode(
        x=alt.X('v:Q', scale=xs, axis=None), y=alt.value(ypix), text=alt.Text('v:Q', format='d'))


def y_labels(ys, vals, xpix, align='right'):
    return alt.Chart(pd.DataFrame({'v': vals})).mark_text(
        font=SANS, fontSize=TICK_FS, color=AX, align=align, baseline='middle').encode(
        y=alt.Y('v:Q', scale=ys, axis=None), x=alt.value(xpix), text=alt.Text('v:Q', format='d'))


def label(xs, ys, xf, yf, xv, yv, txt, size):
    df = pd.DataFrame({xf: [xv], yf: [yv], 't': [txt]})
    return alt.Chart(df).mark_text(font=SANS, fontSize=size, color='black', align='left',
                                   baseline='alphabetic').encode(
        x=alt.X(f'{xf}:Q', scale=xs, axis=None), y=alt.Y(f'{yf}:Q', scale=ys, axis=None), text='t:N')


def pix_text(txt, x, y, size, font=SERIF, angle=0, align='left', baseline='alphabetic'):
    return alt.Chart(pd.DataFrame({'t': [txt]})).mark_text(
        font=font, fontSize=size, color=AX, angle=angle, align=align, baseline=baseline).encode(
        x=alt.value(x), y=alt.value(y), text='t:N')


# ---------------- panel A ----------------
sA, pA = lin(SIGMA_DOMAIN, A_XR), lin(P_DOMAIN, A_YR)
prof07 = pd.DataFrame({'sigma': SIGMA_2007, 'p': P_2007})
prof10 = pd.DataFrame({'sigma': SIGMA_2010, 'p': P_2010})
grid_v = pd.DataFrame({'sigma': [26], 'p0': [P_DOMAIN[0]], 'p1': [P_DOMAIN[1]]})
grid_h = pd.DataFrame({'p': [50, 100], 's0': SIGMA_DOMAIN[0], 's1': SIGMA_DOMAIN[1]})

gA_v = alt.Chart(grid_v).mark_rule(color='#e3e3e3', strokeWidth=1).encode(
    x=alt.X('sigma:Q', scale=sA, axis=None), y=alt.Y('p0:Q', scale=pA, axis=None), y2='p1:Q')
gA_h = alt.Chart(grid_h).mark_rule(color='#e3e3e3', strokeWidth=1).encode(
    y=alt.Y('p:Q', scale=pA, axis=None), x=alt.X('s0:Q', scale=sA, axis=None), x2='s1:Q')
line07 = alt.Chart(prof07).mark_line(color='black', strokeWidth=4.2).encode(
    x=alt.X('sigma:Q', scale=sA, axis=None), y=alt.Y('p:Q', scale=pA, axis=None), order='p:Q')
line10 = alt.Chart(prof10).mark_line(color='black', strokeWidth=4.2, strokeDash=[15, 9]).encode(
    x=alt.X('sigma:Q', scale=sA, axis=None), y=alt.Y('p:Q', scale=pA, axis=None), order='p:Q')

layer_a = alt.layer(
    gA_v, gA_h, line07, line10,
    label(sA, pA, 'sigma', 'p', 26.41, 10.0, '2007', 41),
    label(sA, pA, 'sigma', 'p', 24.24, 42.8, '2010', 41),
    label(sA, pA, 'sigma', 'p', 24.42, 146.3, 'A', 38),
    frame(sA, pA, SIGMA_DOMAIN, P_DOMAIN),
    *inward_ticks(sA, pA, SIGMA_DOMAIN, P_DOMAIN, SIGMA_TICKS, P_TICKS, 7),
    x_labels(sA, SIGMA_TICKS, 770),
    y_labels(pA, P_TICKS, -19),
)

# ---------------- panel B ----------------
hB, yB = lin(H_DOMAIN, BC_XR), lin(B_DOMAIN, B_YR)
b_col = pd.DataFrame(B_GOLD + B_ORANGE + B_GREEN + B_OLIVE + B_TEAL + B_CYAN + B_BLUE + B_DARK,
                     columns=['h', 'bd', 'day'])
b_grey = pd.DataFrame(B_GREY, columns=['h', 'bd'])

layer_b = alt.layer(
    alt.Chart(b_grey).mark_circle(size=GREY_DOT, opacity=1, color=GREY).encode(
        x=alt.X('h:Q', scale=hB, axis=None), y=alt.Y('bd:Q', scale=yB, axis=None)),
    alt.Chart(b_col).mark_circle(size=DOT, opacity=1).encode(
        x=alt.X('h:Q', scale=hB, axis=None), y=alt.Y('bd:Q', scale=yB, axis=None), color=day_color),
    label(hB, yB, 'h', 'bd', 12.1, 28.3, 'B, 2007', 42),
    frame(hB, yB, H_DOMAIN, B_DOMAIN),
    *inward_ticks(hB, yB, H_DOMAIN, B_DOMAIN, H_TICKS, B_TICKS, 5),
    x_labels(hB, H_TICKS, -17),
    y_labels(yB, B_TICKS, 399),
)

# ---------------- panel C ----------------
hC, yC = lin(H_DOMAIN, BC_XR), lin(C_DOMAIN, C_YR)
c_col = pd.DataFrame(C_CYAN + C_TEAL + C_GREEN + C_OLIVE + C_GOLD + C_BLUE + C_DARK + C_ORANGE + C_YELLOW,
                     columns=['h', 'bd', 'day'])
c_grey = pd.DataFrame(C_GREY, columns=['h', 'bd'])

layer_c = alt.layer(
    alt.Chart(c_grey).mark_circle(size=GREY_DOT, opacity=1, color=GREY).encode(
        x=alt.X('h:Q', scale=hC, axis=None), y=alt.Y('bd:Q', scale=yC, axis=None)),
    alt.Chart(c_col).mark_circle(size=DOT, opacity=1).encode(
        x=alt.X('h:Q', scale=hC, axis=None), y=alt.Y('bd:Q', scale=yC, axis=None), color=day_color),
    label(hC, yC, 'h', 'bd', 12.1, 59.9, 'C, 2010', 42),
    frame(hC, yC, H_DOMAIN, C_DOMAIN),
    *inward_ticks(hC, yC, H_DOMAIN, C_DOMAIN, H_TICKS, C_TICKS, 5),
    x_labels(hC, H_TICKS, 770),
    y_labels(yC, C_TICKS, 398),
)

# ---------------- colour bar ----------------
step = (DAY_STOPS[-1] - DAY_STOPS[0]) / N_LEVELS
levels = pd.DataFrame({'lo': [DAY_STOPS[0] + i * step for i in range(N_LEVELS)]})
levels['hi'] = levels['lo'] + step
levels['day'] = levels['lo'] + step / 2
yCB = lin([DAY_STOPS[0], DAY_STOPS[-1]], [H, 0])
cb_frame = pd.DataFrame({'lo': [DAY_STOPS[0]], 'hi': [DAY_STOPS[-1]]})

layer_cb = alt.layer(
    alt.Chart(levels).mark_rect(strokeWidth=0).encode(
        x=alt.value(CB_X0), x2=alt.value(CB_X1),
        y=alt.Y('lo:Q', scale=yCB, axis=None), y2='hi:Q', color=day_color),
    alt.Chart(cb_frame).mark_rect(fillOpacity=0, stroke=AX, strokeWidth=1.3).encode(
        x=alt.value(CB_X0), x2=alt.value(CB_X1), y=alt.Y('lo:Q', scale=yCB, axis=None), y2='hi:Q'),
    alt.Chart(pd.DataFrame({'v': DAY_TICKS})).mark_rule(color=AX, strokeWidth=1.2).encode(
        x=alt.value(CB_X1 - 7), x2=alt.value(CB_X1), y=alt.Y('v:Q', scale=yCB, axis=None)),
    y_labels(yCB, DAY_TICKS, CB_X1 + 15, align='left'),
)

# ---------------- axis titles ----------------
layer_titles = alt.layer(
    pix_text('Pressure [dbar]', -94, 366, 26, angle=270, align='center', baseline='middle'),
    pix_text('σ', 54, 803, 26),
    pix_text('θ', 71, 810, 17),
    pix_text('[kg m⁻³]', 95, 803, 26),
    pix_text('BD [kg m⁻²]', 343, 451, 26, angle=270),
    pix_text('h', 600, 803, 26),
    pix_text('BD', 616, 810, 18),
    pix_text('[m]', 648, 803, 26),
    pix_text('Julian day', 1063, 366, 25, font=SANS, angle=270, align='center', baseline='middle'),
)

chart = alt.layer(layer_a, layer_b, layer_c, layer_cb, layer_titles).resolve_scale(
    x='independent', y='independent'
).properties(
    width=W, height=H,
    autosize=alt.AutoSizeParams(type='none'),
    padding={'left': 122, 'top': 52, 'right': 102, 'bottom': 83},
    background='white',
).configure_view(strokeWidth=0)

chart.save('out.html', embed_options={'renderer': 'svg', 'actions': False})
